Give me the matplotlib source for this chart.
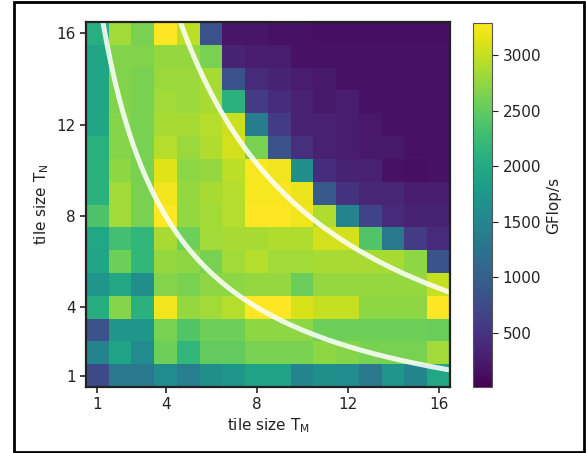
import numpy as np
import matplotlib
matplotlib.use("Agg")
import matplotlib.pyplot as plt
from matplotlib.patches import Rectangle

# tile sizes on both axes
tile_m = np.arange(1, 17)
tile_n = np.arange(1, 17)
tick_vals = [1, 4, 8, 12, 16]
cbar_ticks = [500, 1000, 1500, 2000, 2500, 3000]

# GFlop/s, one row per T_N (1 .. 16), columns T_M (1 .. 16)
gflops_tn1 = [735, 1320, 1320, 1590, 1420, 1650, 1750, 1910, 1910, 1490, 1650, 1590, 1320, 1750, 1490, 1980]
gflops_tn2 = [1490, 1910, 1590, 2570, 2180, 2500, 2500, 2630, 2630, 2630, 2730, 2700, 2630, 2630, 2630, 2830]
gflops_tn3 = [830, 1750, 1750, 2630, 2400, 2570, 2570, 2730, 2730, 2730, 2570, 2570, 2570, 2570, 2570, 2540]
gflops_tn4 = [2050, 2700, 2110, 3220, 2770, 2830, 2930, 3290, 3290, 3090, 3000, 3000, 2730, 2730, 2730, 3290]
gflops_tn5 = [1720, 1980, 1650, 2700, 2630, 2730, 2730, 2770, 2770, 2540, 2770, 2770, 2770, 2770, 2770, 3000]
gflops_tn6 = [1950, 2570, 2180, 2770, 2730, 2630, 2830, 2930, 2830, 2830, 2860, 2860, 2860, 2860, 2730, 870]
gflops_tn7 = [1980, 2310, 2180, 2860, 2570, 2830, 2860, 2860, 2900, 2900, 3060, 3060, 2400, 1320, 600, 410]
gflops_tn8 = [2370, 2830, 2630, 3290, 2770, 2830, 2930, 3290, 3290, 3220, 2900, 1490, 670, 410, 340, 340]
gflops_tn9 = [2110, 2830, 2630, 3220, 2770, 2860, 2930, 3260, 3260, 3190, 930, 500, 370, 370, 280, 280]
gflops_tn10 = [2110, 2730, 2630, 3130, 2730, 2770, 2960, 3260, 3220, 1650, 440, 340, 310, 180, 145, 180]
gflops_tn11 = [2110, 2700, 2630, 2930, 2800, 2900, 3060, 2630, 830, 470, 310, 280, 240, 240, 180, 180]
gflops_tn12 = [1950, 2700, 2630, 2860, 2860, 2930, 3030, 1390, 600, 340, 310, 280, 240, 180, 180, 180]
gflops_tn13 = [1950, 2670, 2630, 2830, 2800, 2860, 2110, 600, 440, 310, 240, 280, 180, 180, 180, 180]
gflops_tn14 = [1950, 2670, 2630, 2800, 2800, 2860, 830, 410, 340, 280, 240, 180, 180, 180, 180, 180]
gflops_tn15 = [1950, 2670, 2670, 2770, 2770, 2630, 340, 280, 280, 180, 180, 180, 180, 180, 180, 180]
gflops_tn16 = [2080, 2830, 2630, 3290, 2960, 830, 210, 210, 180, 180, 145, 145, 145, 145, 145, 145]

# limit curves (T_M + 2)(T_N + 2) = const
curve_offset = 2.0
curve_consts = [60.0, 123.0]

grid = np.array([gflops_tn1, gflops_tn2, gflops_tn3, gflops_tn4, gflops_tn5, gflops_tn6,
                 gflops_tn7, gflops_tn8, gflops_tn9, gflops_tn10, gflops_tn11, gflops_tn12,
                 gflops_tn13, gflops_tn14, gflops_tn15, gflops_tn16])

W, H = 586, 453
fig = plt.figure(figsize=(W / 100, H / 100), dpi=100)

ax = fig.add_axes([86 / W, 1 - 387 / H, 364 / W, 365 / H])
im = ax.imshow(grid, origin="lower", cmap="viridis", vmin=14, vmax=3290,
               extent=(0.5, 16.5, 0.5, 16.5), aspect="auto", interpolation="nearest")

xs = np.linspace(0.5, 16.5, 400)
for c in curve_consts:
    ys = c / (xs + curve_offset) - curve_offset
    ax.plot(xs, ys, color="white", lw=3.6, alpha=0.85, solid_capstyle="butt")

ax.set_xlim(0.5, 16.5)
ax.set_ylim(0.5, 16.5)
ax.set_xticks(tick_vals)
ax.set_yticks(tick_vals)
ax.tick_params(labelsize=11, length=4, width=1.2, colors="#222222")
for s in ax.spines.values():
    s.set_linewidth(1.6)
    s.set_color("#222222")
ax.set_xlabel(r"tile size $\mathregular{T_M}$", fontsize=11, color="#222222", labelpad=3)
ax.set_ylabel(r"tile size $\mathregular{T_N}$", fontsize=11, color="#222222", labelpad=4)

cax = fig.add_axes([473 / W, 1 - 387 / H, 19 / W, 364 / H])
cb = fig.colorbar(im, cax=cax, ticks=cbar_ticks)
cb.outline.set_linewidth(0.8)
cb.outline.set_edgecolor("#555555")
cax.tick_params(labelsize=11, length=4, colors="#222222")
cb.set_label("GFlop/s", fontsize=11, color="#222222")

# frame around the whole figure
fig.patches.append(Rectangle((14 / W, 1 - 452 / H), (584 - 14) / W, (452 - 2) / H,
                             transform=fig.transFigure, fill=False, lw=2, ec="black"))

fig.savefig("out.png", dpi=100)
